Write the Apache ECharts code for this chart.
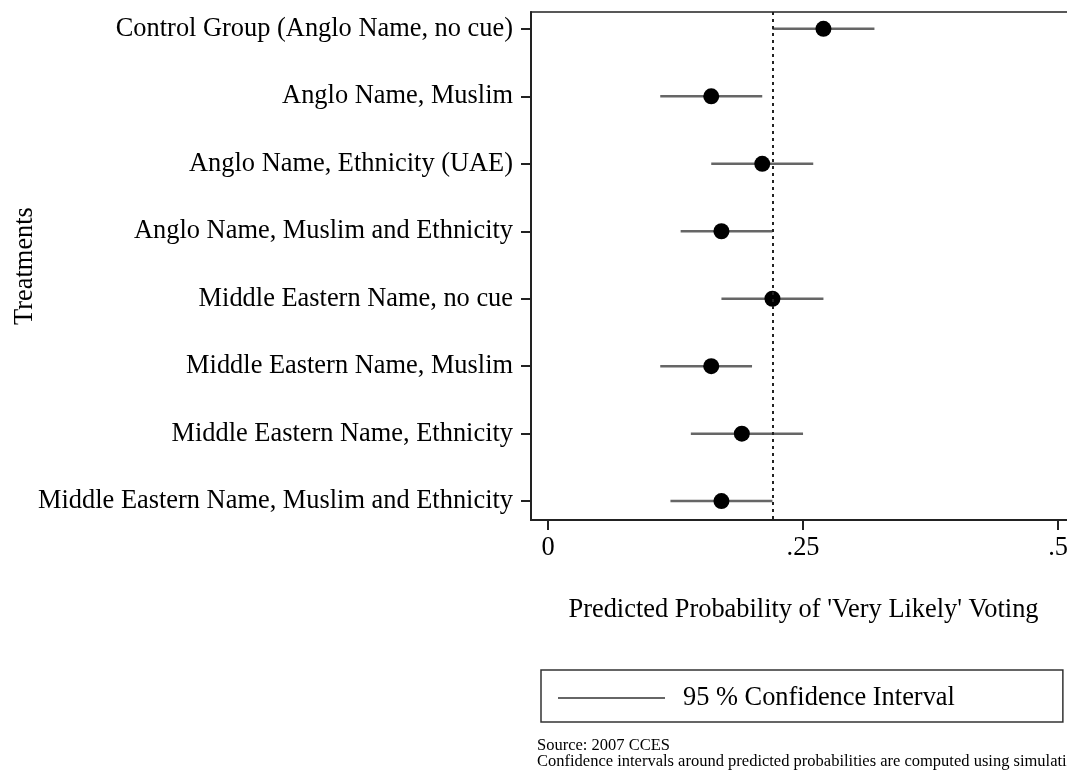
<!DOCTYPE html>
<html>
<head>
<meta charset="utf-8">
<script src="https://cdn.jsdelivr.net/npm/echarts@6/dist/echarts.min.js"></script>
<style>html,body{margin:0;padding:0;background:#fff;overflow:hidden;}#c{width:1067px;height:772px;}</style>
</head>
<body>
<div id="c"></div>
<script>
const categories = [
  "Control Group (Anglo Name, no cue)",
  "Anglo Name, Muslim",
  "Anglo Name, Ethnicity (UAE)",
  "Anglo Name, Muslim and Ethnicity",
  "Middle Eastern Name, no cue",
  "Middle Eastern Name, Muslim",
  "Middle Eastern Name, Ethnicity",
  "Middle Eastern Name, Muslim and Ethnicity"
];
const estimate = [0.27, 0.16, 0.21, 0.17, 0.22, 0.16, 0.19, 0.17];
const lower    = [0.22, 0.11, 0.16, 0.13, 0.17, 0.11, 0.14, 0.12];
const upper    = [0.32, 0.21, 0.26, 0.22, 0.27, 0.20, 0.25, 0.22];
const referenceValue = 0.22;
const xTicks = [0, 0.25, 0.5];
const xTickLabels = ["0", ".25", ".5"];
const xTitle = "Predicted Probability of 'Very Likely' Voting";
const yTitle = "Treatments";
const legendLabel = "95 % Confidence Interval";
const notes = ["Source: 2007 CCES", "Confidence intervals around predicted probabilities are computed using simulations"];

const rows = categories.map((c, i) => i + 1);
const FONT = "Liberation Serif";
const FS = 26.4;

const chart = echarts.init(document.getElementById('c'), null, {renderer: 'canvas'});
chart.setOption({
  backgroundColor: '#fff',
  animation: false,
  textStyle: {fontFamily: FONT, color: '#000'},
  grid: {left: 531, top: 12, width: 545, height: 508, show: true, borderColor: '#222', borderWidth: 1.5,
    containLabel: false, outerBoundsMode: 'none'},
  xAxis: {
    type: 'value', min: -0.0167, max: 0.5176,
    splitLine: {show: false},
    axisLine: {show: true, onZero: false, lineStyle: {color: '#222', width: 2}},
    axisTick: {show: true, customValues: xTicks, length: 10, lineStyle: {color: '#222', width: 2}},
    axisLabel: {customValues: xTicks, margin: 15, fontSize: FS, fontFamily: FONT, color: '#000',
      formatter: v => { const i = xTicks.findIndex(t => Math.abs(t - v) < 1e-6); return i >= 0 ? xTickLabels[i] : ''; }},
    name: xTitle, nameLocation: 'middle', nameGap: 77,
    nameTextStyle: {fontSize: FS, fontFamily: FONT, color: '#000'}
  },
  yAxis: {
    type: 'value', inverse: true, min: 0.75, max: 8.28,
    splitLine: {show: false},
    axisLine: {show: true, onZero: false, lineStyle: {color: '#222', width: 2}},
    axisTick: {show: true, customValues: rows, length: 10, lineStyle: {color: '#222', width: 2}},
    axisLabel: {customValues: rows, margin: 18, fontSize: FS, fontFamily: FONT, color: '#000',
      padding: [4, 0, 0, 0],
      formatter: v => categories[Math.round(v) - 1] || ''},
    name: yTitle, nameLocation: 'middle', nameGap: 493, nameRotate: 90, nameMoveOverlap: false,
    nameTextStyle: {fontSize: FS, fontFamily: FONT, color: '#000'}
  },
  legend: {
    show: true, left: 541, top: 670,
    data: [{name: legendLabel, icon: 'rect'}],
    itemWidth: 107, itemHeight: 2, itemGap: 10,
    borderColor: '#333', borderWidth: 1.5, borderRadius: 0,
    padding: [15, 108, 11, 17],
    selectedMode: false,
    textStyle: {fontSize: FS, lineHeight: 26, fontFamily: FONT, color: '#000', padding: [0, 0, 0, 13]}
  },
  series: [
    {
      name: legendLabel,
      type: 'custom',
      itemStyle: {color: '#666'},
      data: rows.map((r, i) => [lower[i], upper[i], r]),
      renderItem: (params, api) => {
        const a = api.coord([api.value(0), api.value(2)]);
        const b = api.coord([api.value(1), api.value(2)]);
        return {type: 'line', shape: {x1: a[0], y1: a[1], x2: b[0], y2: b[1]},
          style: {stroke: '#666', lineWidth: 2.5}};
      },
      encode: {x: [0, 1], y: 2},
      z: 2
    },
    {
      name: 'Estimate',
      type: 'scatter',
      symbol: 'circle', symbolSize: 16,
      itemStyle: {color: '#000', opacity: 1},
      data: rows.map((r, i) => [estimate[i], r]),
      z: 4,
      markLine: {
        silent: true, symbol: 'none', label: {show: false},
        lineStyle: {color: '#222', width: 2, type: [3, 4], opacity: 1},
        data: [{xAxis: referenceValue}]
      }
    }
  ],
  graphic: [
    {type: 'text', left: 537, top: 737, style: {text: notes[0], font: '16.5px "Liberation Serif"', fill: '#000'}},
    {type: 'text', left: 537, top: 753, style: {text: notes[1], font: '16.5px "Liberation Serif"', fill: '#000'}}
  ]
});
</script>
</body>
</html>
